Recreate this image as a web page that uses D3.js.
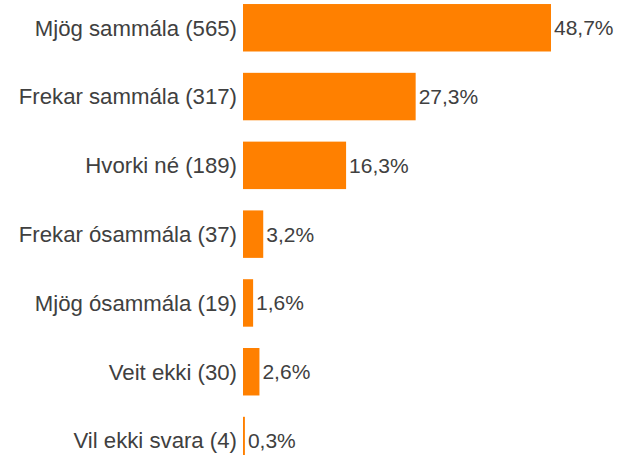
<!DOCTYPE html>
<html>
<head>
<meta charset="utf-8">
<script src="https://cdn.jsdelivr.net/npm/d3@7"></script>
<style>
  body { margin: 0; background: #fff; }
  text { font-family: "Liberation Sans", Arial, sans-serif; }
</style>
</head>
<body>
<svg id="chart" width="621" height="455"></svg>
<script>
// svarmöguleikar og hlutföll
var categories = ["Mjög sammála (565)", "Frekar sammála (317)", "Hvorki né (189)",
  "Frekar ósammála (37)", "Mjög ósammála (19)", "Veit ekki (30)", "Vil ekki svara (4)"];
var values = [48.7, 27.3, 16.3, 3.2, 1.6, 2.6, 0.3];
var valueLabels = ["48,7%", "27,3%", "16,3%", "3,2%", "1,6%", "2,6%", "0,3%"];

var svg = d3.select("#chart");
var left = 243;

var x = d3.scaleLinear().domain([0, 48.7]).range([left, 551]);
var y = d3.scaleBand().domain(categories).range([-17.3, 485.6])
  .paddingInner(0.31).paddingOuter(0.31);

var rows = svg.selectAll("g.row").data(categories).enter().append("g").attr("class", "row");

rows.append("rect")
  .attr("x", left)
  .attr("y", function(d) { return y(d); })
  .attr("width", function(d, i) { return x(values[i]) - left; })
  .attr("height", y.bandwidth())
  .attr("fill", "#ff8000");

rows.append("text")
  .attr("x", left - 6)
  .attr("y", function(d) { return y(d) + y.bandwidth() / 2; })
  .attr("dy", "0.35em")
  .attr("text-anchor", "end")
  .attr("font-size", 22.2)
  .attr("fill", "#404040")
  .text(function(d) { return d; });

rows.append("text")
  .attr("x", function(d, i) { return x(values[i]) + 3; })
  .attr("y", function(d) { return y(d) + y.bandwidth() / 2; })
  .attr("dy", "0.35em")
  .attr("font-size", 21)
  .attr("fill", "#404040")
  .text(function(d, i) { return valueLabels[i]; });
</script>
</body>
</html>
